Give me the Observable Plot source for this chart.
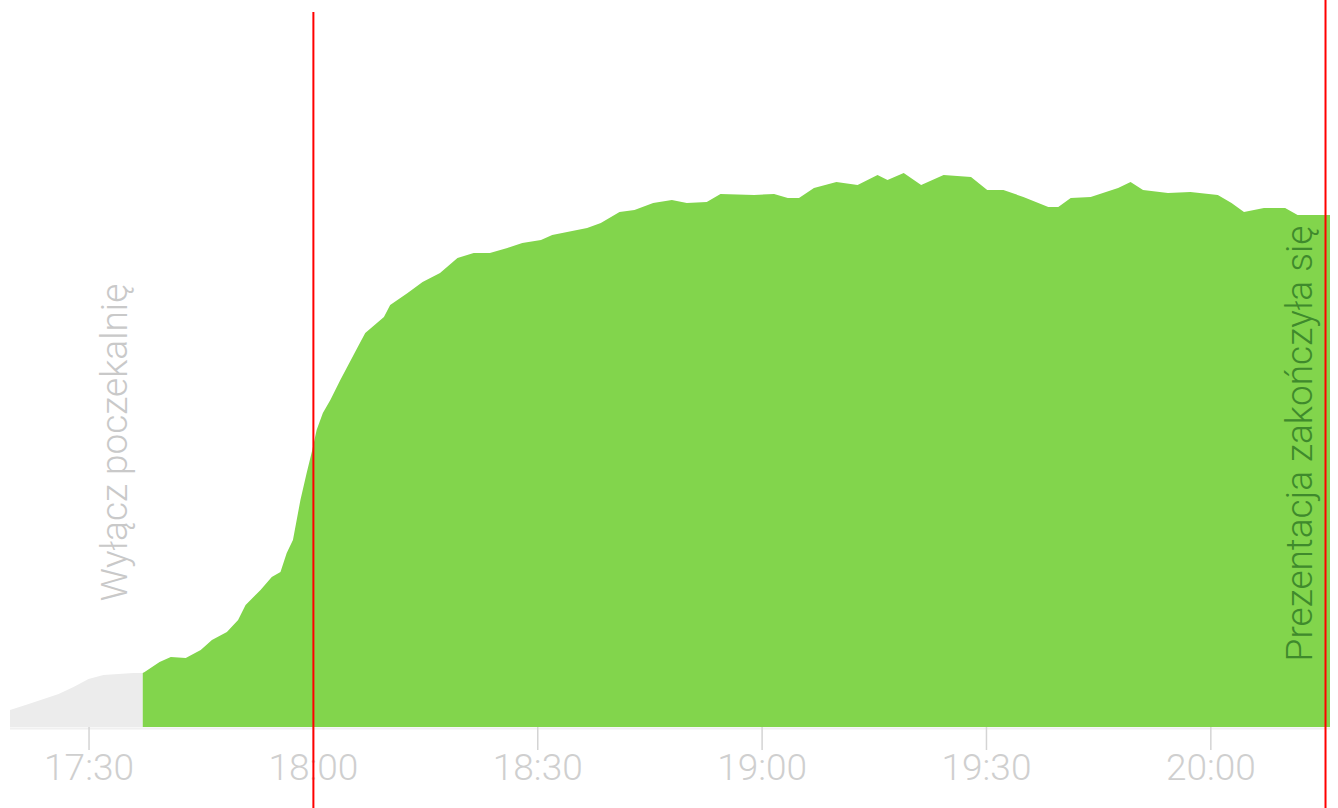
<!DOCTYPE html>
<html>
<head>
<meta charset="utf-8">
<script src="https://cdn.jsdelivr.net/npm/d3@7"></script>
<script src="https://cdn.jsdelivr.net/npm/@observablehq/plot@0.6"></script>
<style>
  html, body { margin: 0; padding: 0; background: #fff; }
  #chart { width: 1338px; height: 808px; overflow: hidden; }
</style>
</head>
<body>
<div id="chart"></div>
<script>
// Waiting-room period (grey) — time, audience level
const grayTimes = ["17:19:30","17:22","17:24","17:26","17:28","17:30","17:32","17:34","17:36","17:37:15"];
const grayValues = [17, 23, 28, 33, 40, 48, 52, 53, 54, 54];

// Presentation period (green) — time, audience level
const greenTimes = [
  "17:37:15","17:37:30","17:39:30","17:41","17:43","17:45","17:46:30","17:48:30","17:50","17:51",
  "17:53","17:54:30","17:55:40","17:56:30","17:57:20","17:58:20","17:59:10","17:59:55","18:00:30","18:01:20",
  "18:02:20","18:03:40","18:06","18:07","18:09:30","18:10:20","18:12:40","18:14:40","18:17","18:19:20",
  "18:21:30","18:23:40","18:26","18:28","18:30:30","18:32","18:34","18:36:40","18:38:30","18:41",
  "18:43","18:45:30","18:48","18:50","18:52:40","18:54:30","18:59","19:01:40","19:03:30","19:05",
  "19:07","19:08","19:10","19:12:50","19:15:30","19:16:50","19:19","19:21:20","19:24:20","19:28",
  "19:30:10","19:32:20","19:35","19:38:20","19:39:40","19:41:20","19:44","19:47:40","19:49:20","19:51",
  "19:54:20","19:57:20","20:01","20:02:50","20:04:30","20:07:10","20:10","20:11:40","20:16"
];
const greenValues = [
  54, 55, 65, 70, 69, 77, 87, 95, 107, 122,
  137, 150, 155, 174, 187, 227, 254, 277, 297, 314,
  327, 347, 380, 394, 410, 422, 434, 445, 454, 469,
  474, 474, 479, 484, 487, 492, 495, 499, 504, 515,
  517, 524, 527, 524, 525, 533, 532, 533, 529, 529,
  539, 541, 545, 542, 552, 547, 554, 542, 552, 550,
  537, 537, 530, 520, 520, 529, 530, 539, 545, 537,
  534, 535, 532, 524, 515, 519, 519, 512, 512
];

// Axis ticks
const tickTimes = ["17:30","18:00","18:30","19:00","19:30","20:00"];

// Event markers
const eventTimes = ["18:00:00","20:15:20"];

// Annotations
const annotationTexts = ["Wyłącz poczekalnię", "Prezentacja zakończyła się"];
const annotationTimes = ["17:33:30", "20:12:00"];
const annotationLevels = [285, 284];

function t(s) {
  const [h, m, sec = 0] = s.split(":").map(Number);
  return new Date(2024, 0, 1, h, m, sec);
}

const gray = grayTimes.map((s, i) => ({time: t(s), value: grayValues[i]}));
const green = greenTimes.map((s, i) => ({time: t(s), value: greenValues[i]}));
const ticks = tickTimes.map(t);
const events = eventTimes.map(t);
const notes = annotationTexts.map((text, i) => ({text, time: t(annotationTimes[i]), level: annotationLevels[i]}));
const fmt = d3.timeFormat("%H:%M");

const chart = Plot.plot({
  width: 1338,
  height: 808,
  marginLeft: 10,
  marginRight: 8,
  marginTop: 0,
  marginBottom: 81,
  style: {fontFamily: "Roboto, 'Noto Sans', sans-serif", background: "#fff", overflow: "visible"},
  x: {type: "time", domain: [t("17:19:30"), t("20:16:00")], axis: null},
  y: {domain: [0, 727], axis: null},
  marks: [
    Plot.areaY(gray, {x: "time", y: "value", fill: "#ececec", curve: "linear"}),
    Plot.areaY(green, {x: "time", y: "value", fill: "#82d54c", curve: "linear"}),
    Plot.ruleY([0], {stroke: "#f0f0f0", strokeWidth: 2, dy: 1}),
    Plot.ruleX(ticks, {x: d => d, y1: 0, y2: -23, stroke: "#d4d4d4", strokeWidth: 1.5}),
    Plot.text(ticks, {x: d => d, frameAnchor: "bottom", dy: 52, text: d => fmt(d), fontSize: 37, fontWeight: 300, fill: "#cfcfcf"}),
    Plot.ruleX([events[0]], {x: d => d, y1: 715, y2: -81, stroke: "#ff0000", strokeWidth: 2}),
    Plot.ruleX([events[1]], {x: d => d, y1: 727, y2: -81, stroke: "#ff0000", strokeWidth: 2}),
    Plot.text([notes[0]], {x: "time", y: "level", text: "text", rotate: -90, fontSize: 37, fontWeight: 300, fill: "#c9c9c9"}),
    Plot.text([notes[1]], {x: "time", y: "level", text: "text", rotate: -90, fontSize: 37, fontWeight: 300, fill: "#3f8a2c"})
  ]
});
document.getElementById("chart").appendChild(chart);
</script>
</body>
</html>
